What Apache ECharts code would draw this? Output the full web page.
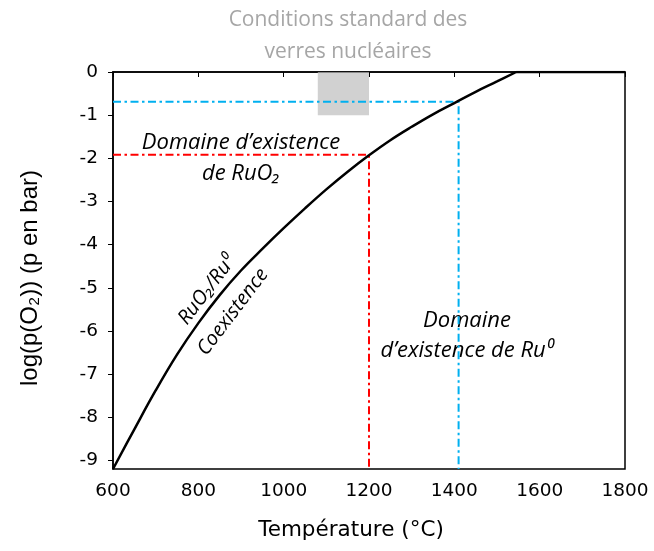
<!DOCTYPE html>
<html>
<head>
<meta charset="utf-8">
<script src="https://cdn.jsdelivr.net/npm/echarts@6/dist/echarts.min.js"></script>
<style>
html,body{margin:0;padding:0;background:#fff;}
#chart{width:654px;height:551px;}
</style>
</head>
<body>
<div id="chart"></div>
<script>
// ---- data ----
const temperatures = [600, 650, 700, 750, 800, 850, 900, 950, 1000, 1050, 1100, 1150, 1200, 1250, 1300, 1350, 1400, 1450, 1500, 1545, 1600, 1700, 1800];
const logPO2 = [-9.2, -8.28, -7.38, -6.55, -5.82, -5.17, -4.6, -4.1, -3.62, -3.16, -2.72, -2.31, -1.93, -1.58, -1.27, -0.98, -0.72, -0.46, -0.22, 0, 0, 0, 0];
const plateauStartT = 1545;
const redPoint = [1200, -1.92];
const bluePoint = [1410, -0.69];
const grayBoxT = [1080, 1200];
const grayBoxY = [0, -1];
const yMin = -9.2, yMax = 0;
const xMin = 600, xMax = 1800, xStep = 200;
const yTickValues = [0, -1, -2, -3, -4, -5, -6, -7, -8, -9];
const xTitle = 'Température (°C)';
const yTitle = 'log(p(O\u2082)) (p en bar)';

const chart = echarts.init(document.getElementById('chart'), null, {renderer: 'canvas'});
const dashDot = [8, 3.5, 2.5, 3.5];
const sansFont = '"DejaVu Sans", sans-serif';
const arialFont = '"Liberation Sans", Arial, sans-serif';
const calFont = '"Open Sans", sans-serif';

const allPts = temperatures.map((t, i) => [t, logPO2[i]]);
const curvePts = allPts.filter(p => p[0] <= plateauStartT);
const plateauPts = allPts.filter(p => p[0] >= plateauStartT);

const option = {
  backgroundColor: '#fff',
  animation: false,
  grid: {left: 113, right: 29, top: 72, bottom: 82, show: true, borderColor: '#000', borderWidth: 1.5, backgroundColor: 'transparent'},
  xAxis: {
    type: 'value', min: xMin, max: xMax, interval: xStep,
    axisLine: {show: true, lineStyle: {color: '#000', width: 1.5}},
    axisTick: {show: true, length: 5, lineStyle: {color: '#000', width: 1}},
    axisLabel: {fontFamily: sansFont, fontSize: 18.5, color: '#000', margin: 13, formatter: (v) => String(v)},
    splitLine: {show: false}
  },
  yAxis: {
    type: 'value', min: yMin, max: yMax,
    axisLine: {show: true, lineStyle: {color: '#000', width: 1.5}},
    axisTick: {show: true, length: 5, customValues: yTickValues, lineStyle: {color: '#000', width: 1}},
    axisLabel: {fontFamily: sansFont, fontSize: 18.5, color: '#000', margin: 15, customValues: yTickValues},
    splitLine: {show: false}
  },
  series: [
    {
      type: 'line', name: 'red', symbol: 'none', z: 2,
      data: [[xMin, redPoint[1]], redPoint, [redPoint[0], yMin]],
      lineStyle: {color: '#FF0000', width: 2, type: dashDot}
    },
    {
      type: 'line', name: 'blue', symbol: 'none', z: 2,
      data: [[xMin, bluePoint[1]], bluePoint, [bluePoint[0], yMin]],
      lineStyle: {color: '#00B0F0', width: 2, type: dashDot}
    },
    {
      type: 'line', name: 'equilibrium', symbol: 'none', smooth: 0.4, z: 3,
      data: curvePts,
      lineStyle: {color: '#000', width: 2.5},
      markArea: {
        silent: true,
        itemStyle: {color: 'rgba(190,190,190,0.7)'},
        data: [[{coord: [grayBoxT[0], grayBoxY[0]]}, {coord: [grayBoxT[1], grayBoxY[1]]}]]
      }
    },
    {
      type: 'line', name: 'plateau', symbol: 'none', z: 3,
      data: plateauPts,
      lineStyle: {color: '#000', width: 2.5}
    }
  ],
  graphic: [
    {type: 'text', x: 351, y: 530, style: {text: xTitle, fill: '#000', font: '21.5px ' + sansFont, textAlign: 'center', textVerticalAlign: 'middle'}},
    {type: 'text', x: 30, y: 278, rotation: Math.PI / 2, style: {text: yTitle, fill: '#000', font: '24px ' + arialFont, textAlign: 'center', textVerticalAlign: 'middle'}},
    {type: 'text', x: 348, y: 36, style: {text: 'Conditions standard des\nverres nucléaires', fill: '#A6A6A6', font: '21px ' + calFont, textAlign: 'center', textVerticalAlign: 'middle', lineHeight: 32}},
    {type: 'text', x: 241, y: 158, style: {text: 'Domaine d\u2019existence\nde RuO\u2082', fill: '#000', font: 'italic 22px ' + calFont, textAlign: 'center', textVerticalAlign: 'middle', lineHeight: 31}},
    {type: 'text', x: 467, y: 336, style: {text: 'Domaine\nd\u2019existence de Ru\u2070', fill: '#000', font: 'italic 22px ' + calFont, textAlign: 'center', textVerticalAlign: 'middle', lineHeight: 30}},
    {type: 'text', x: 207, y: 290, rotation: 0.92, style: {text: 'RuO\u2082/Ru\u2070', fill: '#000', font: 'italic 20px ' + calFont, textAlign: 'center', textVerticalAlign: 'middle'}},
    {type: 'text', x: 233, y: 312, rotation: 0.92, style: {text: 'Coexistence', fill: '#000', font: 'italic 20px ' + calFont, textAlign: 'center', textVerticalAlign: 'middle'}}
  ]
};
chart.setOption(option);
</script>
</body>
</html>
